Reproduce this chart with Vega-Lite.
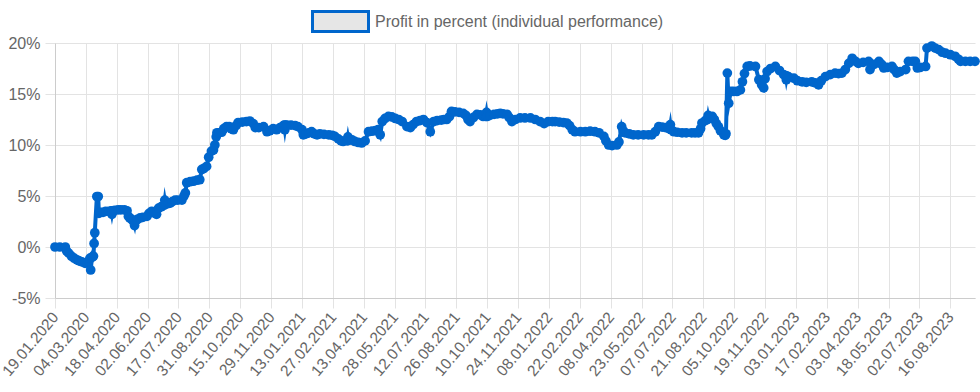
{
  "$schema": "https://vega.github.io/schema/vega-lite/v6.json",
  "width": 920,
  "height": 255,
  "autosize": {"type": "none"},
  "padding": {"left": 55, "top": 43, "right": 5, "bottom": 94},
  "config": {"view": {"stroke": null}, "font": "Liberation Sans"},
  "data": {"values": [
    {"date":"2020-01-19","profit":0},{"date":"2020-01-26","profit":0},{"date":"2020-02-03","profit":0},{"date":"2020-02-05","profit":-0.4},{"date":"2020-02-08","profit":-0.6},{"date":"2020-02-12","profit":-0.9},{"date":"2020-02-16","profit":-1.1},{"date":"2020-02-20","profit":-1.25},{"date":"2020-02-23","profit":-1.35},{"date":"2020-02-27","profit":-1.45},{"date":"2020-03-03","profit":-1.6},{"date":"2020-03-06","profit":-1.5},{"date":"2020-03-08","profit":-1.4},{"date":"2020-03-10","profit":-1.1},{"date":"2020-03-11","profit":-2.25},{"date":"2020-03-13","profit":-1.0},{"date":"2020-03-15","profit":-0.9},{"date":"2020-03-16","profit":0.35},{"date":"2020-03-17","profit":1.4},{"date":"2020-03-20","profit":4.95},{"date":"2020-03-22","profit":4.95},{"date":"2020-03-23","profit":3.3},{"date":"2020-03-25","profit":3.4},{"date":"2020-03-29","profit":3.4},{"date":"2020-04-02","profit":3.5},{"date":"2020-04-07","profit":3.5},{"date":"2020-04-10","profit":3.55},{"date":"2020-04-11","profit":3.2},{"date":"2020-04-12","profit":3.55},{"date":"2020-04-15","profit":3.6},{"date":"2020-04-20","profit":3.65},{"date":"2020-04-24","profit":3.65},{"date":"2020-04-29","profit":3.65},{"date":"2020-05-03","profit":3.55},{"date":"2020-05-05","profit":3.0},{"date":"2020-05-07","profit":2.85},{"date":"2020-05-10","profit":2.7},{"date":"2020-05-12","profit":2.55},{"date":"2020-05-14","profit":2.1},{"date":"2020-05-15","profit":2.5},{"date":"2020-05-18","profit":2.7},{"date":"2020-05-22","profit":2.85},{"date":"2020-05-26","profit":2.9},{"date":"2020-06-01","profit":3.0},{"date":"2020-06-04","profit":3.3},{"date":"2020-06-08","profit":3.5},{"date":"2020-06-11","profit":3.35},{"date":"2020-06-15","profit":3.2},{"date":"2020-06-18","profit":3.8},{"date":"2020-06-22","profit":3.95},{"date":"2020-06-26","profit":4.1},{"date":"2020-06-27","profit":4.6},{"date":"2020-06-28","profit":4.2},{"date":"2020-07-02","profit":4.25},{"date":"2020-07-05","profit":4.3},{"date":"2020-07-08","profit":4.45},{"date":"2020-07-12","profit":4.6},{"date":"2020-07-16","profit":4.6},{"date":"2020-07-22","profit":4.6},{"date":"2020-07-25","profit":5.0},{"date":"2020-07-27","profit":5.3},{"date":"2020-07-29","profit":6.3},{"date":"2020-08-03","profit":6.4},{"date":"2020-08-08","profit":6.45},{"date":"2020-08-13","profit":6.55},{"date":"2020-08-17","profit":6.6},{"date":"2020-08-20","profit":7.6},{"date":"2020-08-23","profit":7.7},{"date":"2020-08-27","profit":7.9},{"date":"2020-08-30","profit":8.8},{"date":"2020-09-03","profit":9.4},{"date":"2020-09-06","profit":9.5},{"date":"2020-09-08","profit":10.0},{"date":"2020-09-10","profit":10.8},{"date":"2020-09-11","profit":11.2},{"date":"2020-09-14","profit":11.2},{"date":"2020-09-18","profit":11.25},{"date":"2020-09-21","profit":11.6},{"date":"2020-09-25","profit":11.8},{"date":"2020-09-29","profit":11.8},{"date":"2020-10-02","profit":11.6},{"date":"2020-10-05","profit":11.5},{"date":"2020-10-09","profit":11.9},{"date":"2020-10-12","profit":12.2},{"date":"2020-10-18","profit":12.25},{"date":"2020-10-24","profit":12.3},{"date":"2020-10-29","profit":12.35},{"date":"2020-11-03","profit":12.1},{"date":"2020-11-06","profit":11.7},{"date":"2020-11-11","profit":11.7},{"date":"2020-11-18","profit":11.8},{"date":"2020-11-23","profit":11.3},{"date":"2020-11-27","profit":11.4},{"date":"2020-12-02","profit":11.6},{"date":"2020-12-07","profit":11.5},{"date":"2020-12-12","profit":11.7},{"date":"2020-12-17","profit":11.9},{"date":"2020-12-18","profit":11.95},{"date":"2020-12-19","profit":11.5},{"date":"2020-12-20","profit":11.95},{"date":"2020-12-22","profit":11.95},{"date":"2020-12-28","profit":11.95},
    {"date":"2021-01-03","profit":11.9},{"date":"2021-01-07","profit":11.8},{"date":"2021-01-13","profit":11.5},{"date":"2021-01-15","profit":11.0},{"date":"2021-01-19","profit":11.1},{"date":"2021-01-23","profit":11.2},{"date":"2021-01-27","profit":11.3},{"date":"2021-01-31","profit":11.1},{"date":"2021-02-04","profit":11.0},{"date":"2021-02-08","profit":11.1},{"date":"2021-02-14","profit":11.05},{"date":"2021-02-21","profit":11.0},{"date":"2021-02-26","profit":10.95},{"date":"2021-03-02","profit":10.85},{"date":"2021-03-07","profit":10.6},{"date":"2021-03-11","profit":10.4},{"date":"2021-03-14","profit":10.35},{"date":"2021-03-20","profit":10.4},{"date":"2021-03-21","profit":10.8},{"date":"2021-03-22","profit":10.45},{"date":"2021-03-27","profit":10.5},{"date":"2021-03-31","profit":10.35},{"date":"2021-04-05","profit":10.25},{"date":"2021-04-10","profit":10.2},{"date":"2021-04-15","profit":10.4},{"date":"2021-04-20","profit":11.3},{"date":"2021-04-25","profit":11.35},{"date":"2021-04-30","profit":11.4},{"date":"2021-05-04","profit":11.5},{"date":"2021-05-07","profit":11.0},{"date":"2021-05-10","profit":12.3},{"date":"2021-05-14","profit":12.6},{"date":"2021-05-19","profit":12.8},{"date":"2021-05-24","profit":12.75},{"date":"2021-05-29","profit":12.6},{"date":"2021-06-03","profit":12.5},{"date":"2021-06-08","profit":12.3},{"date":"2021-06-15","profit":11.8},{"date":"2021-06-20","profit":11.7},{"date":"2021-06-24","profit":12.0},{"date":"2021-06-29","profit":12.3},{"date":"2021-07-04","profit":12.4},{"date":"2021-07-09","profit":12.5},{"date":"2021-07-14","profit":12.2},{"date":"2021-07-19","profit":11.3},{"date":"2021-07-24","profit":12.3},{"date":"2021-07-29","profit":12.4},{"date":"2021-08-04","profit":12.45},{"date":"2021-08-08","profit":12.5},{"date":"2021-08-12","profit":12.5},{"date":"2021-08-16","profit":12.8},{"date":"2021-08-19","profit":13.3},{"date":"2021-08-24","profit":13.25},{"date":"2021-08-30","profit":13.2},{"date":"2021-09-05","profit":13.1},{"date":"2021-09-09","profit":12.9},{"date":"2021-09-12","profit":12.5},{"date":"2021-09-15","profit":12.3},{"date":"2021-09-20","profit":12.7},{"date":"2021-09-25","profit":13.0},{"date":"2021-09-30","profit":12.95},{"date":"2021-10-04","profit":12.8},{"date":"2021-10-08","profit":12.8},{"date":"2021-10-09","profit":13.2},{"date":"2021-10-10","profit":12.8},{"date":"2021-10-14","profit":12.9},{"date":"2021-10-20","profit":13.0},{"date":"2021-10-25","profit":13.05},{"date":"2021-10-29","profit":13.1},{"date":"2021-11-02","profit":13.05},{"date":"2021-11-08","profit":13.0},{"date":"2021-11-11","profit":12.7},{"date":"2021-11-15","profit":12.3},{"date":"2021-11-20","profit":12.5},{"date":"2021-11-27","profit":12.65},{"date":"2021-12-04","profit":12.65},{"date":"2021-12-12","profit":12.65},{"date":"2021-12-19","profit":12.5},{"date":"2021-12-26","profit":12.3},
    {"date":"2022-01-01","profit":12.1},{"date":"2022-01-07","profit":12.3},{"date":"2022-01-13","profit":12.3},{"date":"2022-01-17","profit":12.3},{"date":"2022-01-23","profit":12.25},{"date":"2022-01-29","profit":12.2},{"date":"2022-02-03","profit":12.15},{"date":"2022-02-07","profit":11.9},{"date":"2022-02-11","profit":11.5},{"date":"2022-02-15","profit":11.3},{"date":"2022-02-23","profit":11.3},{"date":"2022-03-02","profit":11.3},{"date":"2022-03-09","profit":11.35},{"date":"2022-03-16","profit":11.3},{"date":"2022-03-22","profit":11.2},{"date":"2022-03-29","profit":10.85},{"date":"2022-04-01","profit":10.4},{"date":"2022-04-05","profit":10.0},{"date":"2022-04-10","profit":9.95},{"date":"2022-04-17","profit":10.0},{"date":"2022-04-20","profit":10.3},{"date":"2022-04-24","profit":11.8},{"date":"2022-04-26","profit":11.4},{"date":"2022-04-29","profit":11.2},{"date":"2022-05-05","profit":11.1},{"date":"2022-05-11","profit":11.0},{"date":"2022-05-18","profit":11.0},{"date":"2022-05-26","profit":11.0},{"date":"2022-06-02","profit":11.0},{"date":"2022-06-07","profit":11.0},{"date":"2022-06-12","profit":11.3},{"date":"2022-06-17","profit":11.8},{"date":"2022-06-22","profit":11.75},{"date":"2022-06-27","profit":11.7},{"date":"2022-07-01","profit":11.65},{"date":"2022-07-03","profit":11.6},{"date":"2022-07-04","profit":12.0},{"date":"2022-07-05","profit":11.5},{"date":"2022-07-09","profit":11.3},{"date":"2022-07-14","profit":11.25},{"date":"2022-07-21","profit":11.2},{"date":"2022-07-27","profit":11.2},{"date":"2022-08-04","profit":11.2},{"date":"2022-08-09","profit":11.2},{"date":"2022-08-14","profit":11.2},{"date":"2022-08-17","profit":11.6},{"date":"2022-08-19","profit":12.15},{"date":"2022-08-24","profit":12.4},{"date":"2022-08-27","profit":12.5},{"date":"2022-08-28","profit":12.9},{"date":"2022-08-29","profit":12.6},{"date":"2022-09-03","profit":12.8},{"date":"2022-09-06","profit":12.5},{"date":"2022-09-09","profit":12.1},{"date":"2022-09-12","profit":11.8},{"date":"2022-09-15","profit":11.4},{"date":"2022-09-20","profit":11.0},{"date":"2022-09-22","profit":10.95},{"date":"2022-09-23","profit":11.1},{"date":"2022-09-25","profit":17.05},{"date":"2022-09-27","profit":14.1},{"date":"2022-09-30","profit":15.25},{"date":"2022-10-04","profit":15.25},{"date":"2022-10-09","profit":15.25},{"date":"2022-10-14","profit":15.4},{"date":"2022-10-17","profit":16.2},{"date":"2022-10-20","profit":17.0},{"date":"2022-10-24","profit":17.7},{"date":"2022-10-28","profit":17.75},{"date":"2022-11-05","profit":17.7},{"date":"2022-11-10","profit":16.4},{"date":"2022-11-14","profit":15.9},{"date":"2022-11-17","profit":15.6},{"date":"2022-11-19","profit":16.5},{"date":"2022-11-22","profit":17.2},{"date":"2022-11-27","profit":17.5},{"date":"2022-12-04","profit":17.7},{"date":"2022-12-10","profit":17.3},{"date":"2022-12-16","profit":16.9},{"date":"2022-12-19","profit":16.8},{"date":"2022-12-20","profit":16.4},{"date":"2022-12-21","profit":16.75},{"date":"2022-12-23","profit":16.7},{"date":"2022-12-31","profit":16.55},
    {"date":"2023-01-05","profit":16.3},{"date":"2023-01-12","profit":16.2},{"date":"2023-01-18","profit":16.15},{"date":"2023-01-26","profit":16.2},{"date":"2023-01-31","profit":16.1},{"date":"2023-02-05","profit":15.9},{"date":"2023-02-09","profit":16.3},{"date":"2023-02-15","profit":16.7},{"date":"2023-02-22","profit":16.9},{"date":"2023-03-01","profit":17.05},{"date":"2023-03-06","profit":17.0},{"date":"2023-03-11","profit":17.05},{"date":"2023-03-16","profit":17.4},{"date":"2023-03-21","profit":18.0},{"date":"2023-03-26","profit":18.5},{"date":"2023-03-31","profit":18.2},{"date":"2023-04-04","profit":18.0},{"date":"2023-04-11","profit":18.1},{"date":"2023-04-19","profit":18.2},{"date":"2023-04-21","profit":17.4},{"date":"2023-04-27","profit":17.9},{"date":"2023-05-04","profit":18.2},{"date":"2023-05-08","profit":17.9},{"date":"2023-05-11","profit":17.55},{"date":"2023-05-16","profit":17.6},{"date":"2023-05-23","profit":17.7},{"date":"2023-05-26","profit":17.4},{"date":"2023-05-30","profit":17.05},{"date":"2023-06-04","profit":17.2},{"date":"2023-06-12","profit":17.4},{"date":"2023-06-16","profit":18.2},{"date":"2023-06-22","profit":18.2},{"date":"2023-06-26","profit":18.2},{"date":"2023-06-29","profit":17.55},{"date":"2023-07-03","profit":17.6},{"date":"2023-07-11","profit":17.7},{"date":"2023-07-13","profit":19.5},{"date":"2023-07-20","profit":19.7},{"date":"2023-07-25","profit":19.5},{"date":"2023-07-30","profit":19.35},{"date":"2023-08-04","profit":19.1},{"date":"2023-08-09","profit":19.0},{"date":"2023-08-16","profit":18.85},{"date":"2023-08-23","profit":18.7},{"date":"2023-08-28","profit":18.4},{"date":"2023-08-31","profit":18.2},{"date":"2023-09-07","profit":18.2},{"date":"2023-09-14","profit":18.2},{"date":"2023-09-21","profit":18.2}
  ]},
  "encoding": {
    "x": {
      "field": "date", "type": "temporal",
      "scale": {"type": "utc", "domain": [{"year": 2020, "month": 1, "date": 19, "utc": true}, {"year": 2023, "month": 9, "date": 21, "utc": true}]},
      "axis": {
        "title": null, "format": "%d.%m.%Y", "labelAngle": -50, "labelAlign": "right", "labelBaseline": "middle",
        "labelFontSize": 15.5, "labelColor": "#666666", "labelPadding": 6, "labelOverlap": false, "labelBound": false, "labelFlush": false,
        "tickSize": 10, "tickColor": "#e3e3e3", "gridColor": "#e3e3e3", "domainColor": "#cccccc", "grid": true,
        "values": [
          {"year": 2020, "month": 1, "date": 19, "utc": true}, {"year": 2020, "month": 3, "date": 4, "utc": true}, {"year": 2020, "month": 4, "date": 18, "utc": true}, {"year": 2020, "month": 6, "date": 2, "utc": true}, {"year": 2020, "month": 7, "date": 17, "utc": true}, {"year": 2020, "month": 8, "date": 31, "utc": true}, {"year": 2020, "month": 10, "date": 15, "utc": true}, {"year": 2020, "month": 11, "date": 29, "utc": true},
          {"year": 2021, "month": 1, "date": 13, "utc": true}, {"year": 2021, "month": 2, "date": 27, "utc": true}, {"year": 2021, "month": 4, "date": 13, "utc": true}, {"year": 2021, "month": 5, "date": 28, "utc": true}, {"year": 2021, "month": 7, "date": 12, "utc": true}, {"year": 2021, "month": 8, "date": 26, "utc": true}, {"year": 2021, "month": 10, "date": 10, "utc": true}, {"year": 2021, "month": 11, "date": 24, "utc": true},
          {"year": 2022, "month": 1, "date": 8, "utc": true}, {"year": 2022, "month": 2, "date": 22, "utc": true}, {"year": 2022, "month": 4, "date": 8, "utc": true}, {"year": 2022, "month": 5, "date": 23, "utc": true}, {"year": 2022, "month": 7, "date": 7, "utc": true}, {"year": 2022, "month": 8, "date": 21, "utc": true}, {"year": 2022, "month": 10, "date": 5, "utc": true}, {"year": 2022, "month": 11, "date": 19, "utc": true},
          {"year": 2023, "month": 1, "date": 3, "utc": true}, {"year": 2023, "month": 2, "date": 17, "utc": true}, {"year": 2023, "month": 4, "date": 3, "utc": true}, {"year": 2023, "month": 5, "date": 18, "utc": true}, {"year": 2023, "month": 7, "date": 2, "utc": true}, {"year": 2023, "month": 8, "date": 16, "utc": true}
        ]
      }
    },
    "y": {
      "field": "profit", "type": "quantitative",
      "scale": {"domain": [-5, 20], "nice": false, "zero": false},
      "axis": {
        "title": null, "values": [-5, 0, 5, 10, 15, 20], "labelExpr": "datum.value + '%'",
        "labelFontSize": 16, "labelColor": "#666666", "labelPadding": 5,
        "tickSize": 10, "tickColor": "#e3e3e3", "gridColor": "#e3e3e3", "domainColor": "#cccccc"
      }
    }
  },
  "layer": [
    {
      "mark": {"type": "line", "strokeWidth": 4, "strokeJoin": "miter", "strokeMiterLimit": 10},
      "encoding": {
        "stroke": {
          "datum": "Profit in percent (individual performance)",
          "type": "nominal",
          "scale": {"range": ["#0066cc"]},
          "legend": {
            "orient": "none", "legendX": 256, "legendY": -51, "title": null, "direction": "horizontal",
            "symbolType": "M-1,-0.357H1V0.357H-1Z", "symbolSize": 3136, "symbolStrokeWidth": 3,
            "symbolFillColor": "#e6e6e6", "symbolStrokeColor": "#0066cc", "symbolOpacity": 1,
            "labelFontSize": 16, "labelColor": "#666666", "labelOffset": 5, "labelLimit": 0, "padding": 0
          }
        }
      }
    },
    {
      "mark": {"type": "point", "filled": true, "size": 95, "opacity": 1, "color": "#0066cc"}
    }
  ]
}
